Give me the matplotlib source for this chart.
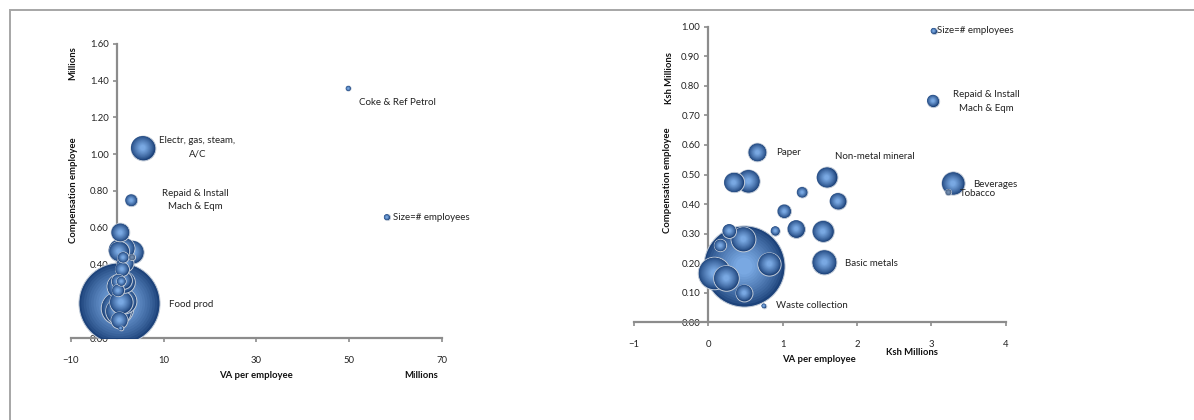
import numpy as np
import matplotlib
matplotlib.use("Agg")
import matplotlib.pyplot as plt
from matplotlib.patches import Rectangle
from matplotlib.colors import to_rgb

plt.rcParams['font.family'] = ['Lato', 'DejaVu Sans']

# sectors: VA per employee (millions), compensation per employee (millions), employees (thousands)
va_emp = [0.48, 49.8, 5.5, 3.02, 0.66, 0.34, 0.54, 1.59, 1.26, 1.74, 1.02, 0.90, 1.18,
          1.54, 0.28, 0.47, 0.16, 0.08, 0.24, 0.82, 0.48, 1.56, 0.745, 3.29, 3.23]
comp_emp = [0.19, 1.357, 1.035, 0.75, 0.575, 0.473, 0.478, 0.49, 0.44, 0.41, 0.376, 0.31, 0.317,
            0.308, 0.31, 0.282, 0.26, 0.167, 0.15, 0.198, 0.10, 0.204, 0.056, 0.47, 0.44]
employees = [122, 0.5, 11.4, 2.8, 6.4, 7.6, 10, 8.1, 2.2, 5.3, 3.6, 1.6, 5.9,
             8.7, 3.6, 11.4, 2.8, 19.6, 12.1, 10, 5.3, 11.4, 0.4, 10, 0.7]

# "Size=# employees" key bubble in each panel
key_left = (58.1, 0.658)
key_right = (3.03, 0.986)
key_size = 0.7

# labels (text, x, y) per panel
labels_left = [("Coke & Ref Petrol", 52.2, 1.28, 'left'),
               ("Electr, gas, steam,\nA/C", 17.3, 1.036, 'center'),
               ("Repaid & Install\nMach & Eqm", 16.9, 0.749, 'center'),
               ("Size=# employees", 59.4, 0.658, 'left'),
               ("Food prod", 11.2, 0.182, 'left')]
labels_right = [("Size=# employees", 3.07, 0.986, 'left'),
                ("Repaid & Install\nMach & Eqm", 3.74, 0.747, 'center'),
                ("Paper", 0.906, 0.575, 'left'),
                ("Non-metal mineral", 1.70, 0.561, 'left'),
                ("Beverages", 3.556, 0.466, 'left'),
                ("Tobacco", 3.38, 0.435, 'left'),
                ("Basic metals", 1.84, 0.20, 'left'),
                ("Waste collection", 0.906, 0.056, 'left')]

SCALE = 28  # points^2 per thousand employees


def shade(k, n):
    dark = np.array(to_rgb('#1c427a'))
    light = np.array(to_rgb('#79a8e2'))
    t = (k / (n - 1)) ** 0.8
    return tuple(dark + (light - dark) * t)


def bubble(ax, x, y, size, z, grey=False):
    n = 14
    for k in range(n):
        f = 1 - 0.85 * k / n
        c = shade(k, n)
        if grey:
            c = tuple(np.array(c) * 0.5 + 0.5 * np.array(to_rgb('#6d7480')))
        ax.scatter([x], [y], s=size * SCALE * f ** 2, color=c,
                   edgecolors='#c3ccd8' if k == 0 else 'none',
                   linewidths=0.7, zorder=z + k * 0.001, clip_on=True)


def style(ax):
    ax.spines['left'].set_position(('data', 0))
    ax.spines['bottom'].set_position(('data', 0))
    for s in ['top', 'right']:
        ax.spines[s].set_visible(False)
    for s in ['left', 'bottom']:
        ax.spines[s].set_color('#8c8c8c')
        ax.spines[s].set_linewidth(1.6)
    ax.tick_params(axis='both', colors='#8c8c8c', labelcolor='#222222',
                   labelsize=6.8, length=3, width=1.2, direction='out')
    ax.tick_params(axis='x', pad=10)
    ax.tick_params(axis='y', pad=3)


fig = plt.figure(figsize=(11.94, 4.2), dpi=100)
fig.patches.append(Rectangle((10 / 1194, -0.1), 1.2, 1.1 - 10.5 / 420,
                             transform=fig.transFigure, fill=False,
                             edgecolor='#a6a6a6', linewidth=1.4))

order = np.argsort(employees)[::-1]
last = len(va_emp) - 1

# left panel: all sectors
ax1 = fig.add_axes([70.7 / 1194, 1 - 338.3 / 420, 371.3 / 1194, 294.6 / 420])
style(ax1)
ax1.set_xlim(-10, 70)
ax1.set_ylim(0, 1.6)
ax1.set_xticks([-10, 10, 30, 50, 70])
ax1.set_yticks(np.arange(0, 1.61, 0.2))
ax1.set_yticklabels([f"{v:.2f}" for v in np.arange(0, 1.61, 0.2)])
for i, idx in enumerate(order):
    bubble(ax1, va_emp[idx], comp_emp[idx], employees[idx], 3 + i * 0.1, grey=(idx == last))
bubble(ax1, key_left[0], key_left[1], key_size, 6)
for t, x, y, ha in labels_left:
    ax1.text(x, y, t, fontsize=7.0, ha=ha, va='center', color='#222222',
             linespacing=1.6, zorder=10)

# right panel: zoom into small VA
ax2 = fig.add_axes([634 / 1194, 1 - 322.3 / 420, 371.7 / 1194, 295.6 / 420])
style(ax2)
ax2.set_xlim(-1, 4)
ax2.set_ylim(0, 1)
ax2.set_xticks([-1, 0, 1, 2, 3, 4])
ax2.set_yticks(np.arange(0, 1.01, 0.1))
ax2.set_yticklabels([f"{v:.2f}" for v in np.arange(0, 1.01, 0.1)])
for i, idx in enumerate(order):
    bubble(ax2, va_emp[idx], comp_emp[idx], employees[idx], 3 + i * 0.1, grey=(idx == last))
bubble(ax2, key_right[0], key_right[1], key_size, 6)
for t, x, y, ha in labels_right:
    ax2.text(x, y, t, fontsize=7.0, ha=ha, va='center', color='#222222',
             linespacing=1.6, zorder=10)

# axis titles
tk = dict(fontsize=6.8, fontweight='bold', color='#111111', ha='center', va='center')
fig.text(73 / 1194, 1 - 63 / 420, "Millions", rotation=90, **tk)
fig.text(73 / 1194, 1 - 190 / 420, "Compensation employee", rotation=90, **tk)
fig.text(256 / 1194, 1 - 376 / 420, "VA per employee", **tk)
fig.text(421 / 1194, 1 - 376 / 420, "Millions", **tk)
fig.text(670 / 1194, 1 - 78 / 420, "Ksh Millions", rotation=90, **tk)
fig.text(668 / 1194, 1 - 180 / 420, "Compensation employee", rotation=90, **tk)
fig.text(819 / 1194, 1 - 359.3 / 420, "VA per employee", **tk)
fig.text(911.7 / 1194, 1 - 352.3 / 420, "Ksh Millions", **tk)

fig.savefig("out.png", dpi=100)
